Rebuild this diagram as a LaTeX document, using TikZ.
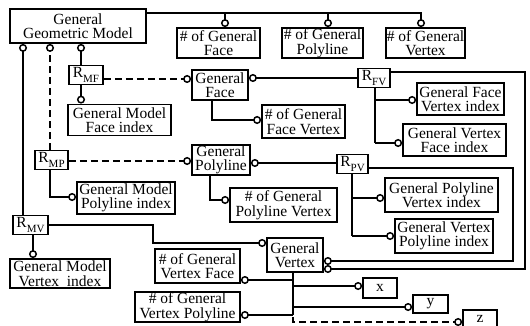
\documentclass[tikz,border=0pt]{standalone}
\usepackage{fontspec}
\setmainfont{Liberation Serif}
\usetikzlibrary{arrows.meta}
\newcommand\Rsub[1]{R\raisebox{-4.5pt}{\fontsize{11}{11}\selectfont #1}}
\begin{document}
\begin{tikzpicture}[x=1pt,y=-1pt, line width=1.5pt,
  box/.style={draw, line width=1.8pt, inner sep=0pt, align=center,
    font=\fontsize{15.5}{14.5}\selectfont},
  rbox/.style={box, minimum width=#1, minimum height=19pt},
  ct/.style={-{Circle[open,length=8pt,width=8pt]}},
  dsh/.style={dash pattern=on 7pt off 4pt}]
\clip (0,0) rectangle (530,326);
% nodes
\node[box, minimum width=136pt, minimum height=34pt] (GGM) at (78,26) {General\\Geometric Model};
\node[box, minimum width=83pt, minimum height=30pt] (nGF) at (218.5,43) {\# of General\\Face};
\node[box, minimum width=81pt, minimum height=30pt] (nGP) at (322.5,43) {\# of General\\Polyline};
\node[box, minimum width=79pt, minimum height=30pt] (nGV) at (425.5,43) {\# of General\\Vertex};
\node[rbox=34pt] (RMF) at (86,75) {\Rsub{MF}};
\node[box, minimum width=103pt, minimum height=31pt] (GMFI) at (119.5,120) {General Model\\Face index};
\node[box, minimum width=56pt, minimum height=30pt] (GF) at (220,85) {General\\Face};
\node[box, minimum width=83pt, minimum height=33pt] (nGFV) at (303.5,121.5) {\# of General\\Face Vertex};
\node[rbox=32pt] (RFV) at (374,78) {\Rsub{FV}};
\node[box, minimum width=87pt, minimum height=32pt] (GFVI) at (460.5,99) {General Face\\Vertex index};
\node[box, minimum width=103pt, minimum height=32pt] (GVFI) at (454.5,140) {General Vertex\\Face index};
\node[rbox=33pt] (RMP) at (51.5,160) {\Rsub{MP}};
\node[box, minimum width=58pt, minimum height=30pt] (GP) at (221,160) {General\\Polyline};
\node[box, minimum width=98pt, minimum height=32pt] (GMPI) at (126,198) {General Model\\Polyline index};
\node[box, minimum width=107pt, minimum height=34pt] (nGPV) at (283.5,205) {\# of General\\Polyline Vertex};
\node[rbox=31pt] (RPV) at (352.5,164) {\Rsub{PV}};
\node[box, minimum width=113pt, minimum height=34pt] (GPVI) at (441.5,195) {General Polyline\\Vertex index};
\node[box, minimum width=98pt, minimum height=34pt] (GVPI) at (444,236) {General Vertex\\Polyline index};
\node[rbox=35pt] (RMV) at (30.5,225) {\Rsub{MV}};
\node[box, minimum width=100pt, minimum height=29pt] (GMVI) at (60,273.5) {General Model\\Vertex\ \ index};
\node[box, minimum width=56pt, minimum height=34pt] (GV) at (295,255) {General\\Vertex};
\node[box, minimum width=85pt, minimum height=34pt] (nGVF) at (197.5,266) {\# of General\\Vertex Face};
\node[box, minimum width=105pt, minimum height=30pt] (nGVP) at (187.5,307) {\# of General\\Vertex Polyline};
\node[box, minimum width=34pt, minimum height=20pt] (X) at (380,288) {x};
\node[box, minimum width=35pt, minimum height=18pt] (Y) at (430.5,304) {y};
\node[box, minimum width=34pt, minimum height=18pt] (Z) at (480,319) {z};
% top line
\coordinate (tF) at (225,13);
\coordinate (tP) at (328,13);
\coordinate (tV) at (421,13);
\draw[ct] (GGM.north east |- tV) -- (tV) -- (tV |- nGV.north);
\draw[ct] (tF) -- (tF |- nGF.north);
\draw[ct] (tP) -- (tP |- nGP.north);
% GGM bottom
\coordinate (xa) at (23,0);
\coordinate (xb) at (50,0);
\coordinate (xc) at (81,0);
\draw[ct] (RMV.north -| xa) -- (GGM.south -| xa);
\draw[ct,dsh] (RMP.north -| xb) -- (GGM.south -| xb);
\draw[ct] (RMF.north -| xc) -- (GGM.south -| xc);
% RMF
\draw[ct] (RMF.south -| xc) -- (GMFI.north -| xc);
\coordinate (y79) at (0,79);
\draw[ct,dsh] (RMF.east |- y79) -- (GF.west |- y79);
\draw[ct] (RFV.west) -- (GF.east |- RFV.west);
\coordinate (gfb) at (212,120);
\draw[ct] (GF.south -| gfb) -- (gfb) -- (nGFV.west |- gfb);
% RFV
\coordinate (fv1) at (375,100);
\coordinate (fv2) at (375,143);
\draw (RFV.south -| fv1) -- (fv2);
\draw[ct] (fv1) -- (GFVI.west |- fv1);
\draw[ct] (fv2) -- (GVFI.west |- fv2);
\coordinate (fvr) at (525,72);
\coordinate (gvl) at (0,269);
\draw[ct] (RFV.east |- fvr) -- (fvr) -- (fvr |- gvl) -- (GV.east |- gvl);
% RMP
\coordinate (y161) at (0,161);
\draw[ct,dsh] (RMP.east |- y161) -- (GP.west |- y161);
\coordinate (mp) at (50,197);
\draw[ct] (RMP.south -| mp) -- (mp) -- (GMPI.west |- mp);
\coordinate (y163) at (0,163);
\draw[ct] (RPV.west |- y163) -- (GP.east |- y163);
\coordinate (gpb) at (210,200);
\draw[ct] (GP.south -| gpb) -- (gpb) -- (nGPV.west |- gpb);
% RPV
\coordinate (pv1) at (352,198);
\coordinate (pv2) at (352,236);
\draw (RPV.south -| pv1) -- (pv2);
\draw[ct] (pv1) -- (GPVI.west |- pv1);
\draw[ct] (pv2) -- (GVPI.west |- pv2);
\coordinate (pvr) at (513,168);
\coordinate (gvu) at (0,261);
\draw[ct] (RPV.east |- pvr) -- (pvr) -- (pvr |- gvu) -- (GV.east |- gvu);
% RMV
\coordinate (mv1) at (153,225);
\coordinate (mv2) at (153,243);
\draw[ct] (RMV.east |- mv1) -- (mv1) -- (mv2) -- (GV.west |- mv2);
\coordinate (mvb) at (33,0);
\draw[ct] (RMV.south -| mvb) -- (GMVI.north -| mvb);
% GV bottom
\coordinate (gb1) at (293,280);
\coordinate (gb2) at (293,286);
\coordinate (gb3) at (293,307);
\coordinate (gb4) at (293,315);
\coordinate (gb5) at (293,317);
\coordinate (gb6) at (293,322);
\draw (GV.south -| gb1) -- (gb4);
\draw[ct] (gb1) -- (nGVF.east |- gb1);
\draw[ct] (gb2) -- (X.west |- gb2);
\draw[ct] (gb3) -- (Y.west |- gb3);
\draw[ct] (gb4) -- (nGVP.east |- gb4);
\draw[ct,dsh] (gb5) -- (gb6) -- (Z.west |- gb6);
\end{tikzpicture}
\end{document}
